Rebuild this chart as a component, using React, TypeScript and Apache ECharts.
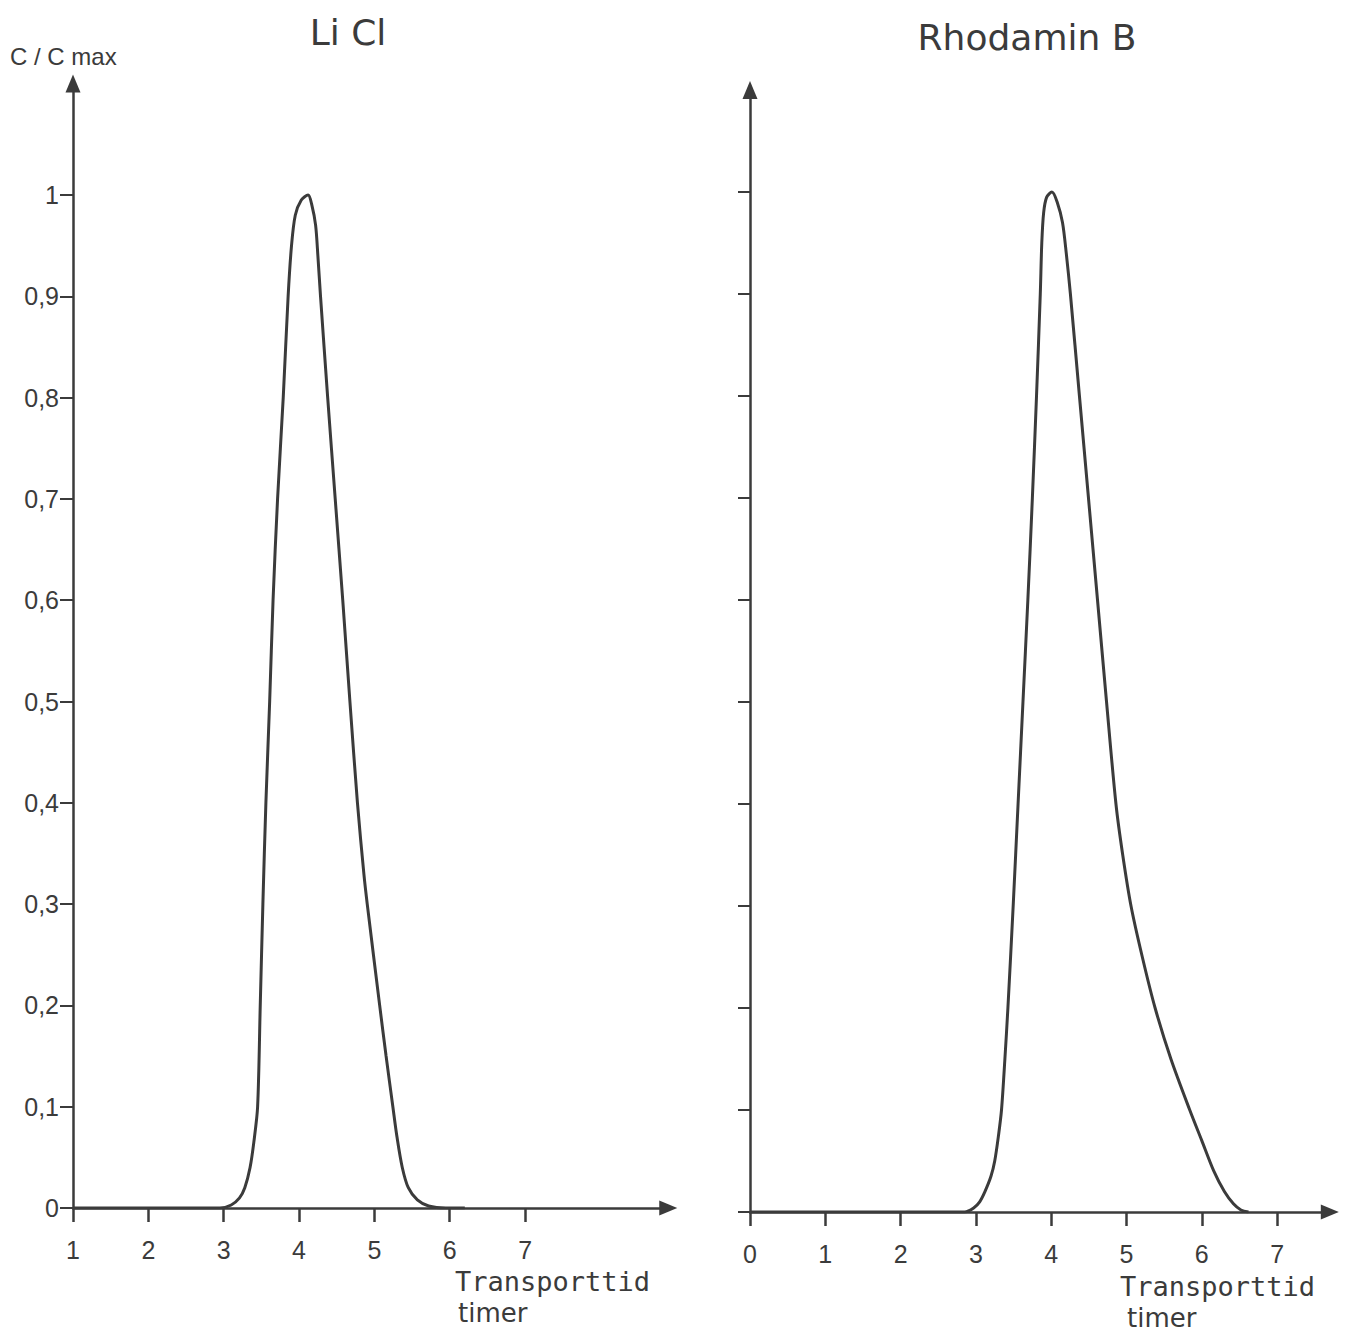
import React, { useEffect, useRef } from 'react';
import * as echarts from 'echarts';

// ---------- data ----------
const yTicks = [0, 0.1, 0.2, 0.3, 0.4, 0.5, 0.6, 0.7, 0.8, 0.9, 1];
const licXTicks = [1, 2, 3, 4, 5, 6, 7];
const rhoXTicks = [0, 1, 2, 3, 4, 5, 6, 7];

const licTitle = 'Li Cl';
const rhoTitle = 'Rhodamin B';
const yName = 'C / C max';
const xName1 = 'Transporttid';
const xName2 = 'timer';

// LiCl: transport time (hours) vs C/Cmax
const licTime = [1, 2.95, 3.1, 3.21, 3.28, 3.35, 3.4, 3.45, 3.485, 3.52, 3.56, 3.61, 3.655, 3.715, 3.79, 3.855, 3.9, 3.95, 4.03, 4.12, 4.17, 4.22, 4.25, 4.285, 4.38, 4.48, 4.58, 4.675, 4.775, 4.86, 4.905, 5.07, 5.155, 5.245, 5.3, 5.37, 5.45, 5.57, 5.72, 5.95, 6.2];
const licConc = [0, 0, 0.003, 0.01, 0.02, 0.04, 0.065, 0.1, 0.2, 0.3, 0.4, 0.5, 0.6, 0.7, 0.8, 0.9, 0.95, 0.98, 0.995, 1.0, 0.99, 0.97, 0.94, 0.9, 0.8, 0.7, 0.6, 0.5, 0.4, 0.33, 0.3, 0.2, 0.15, 0.1, 0.07, 0.04, 0.02, 0.008, 0.002, 0, 0];

// Rhodamin B: transport time (hours) vs C/Cmax
const rhoTime = [0, 2.85, 2.97, 3.05, 3.12, 3.2, 3.25, 3.3, 3.34, 3.385, 3.425, 3.495, 3.56, 3.625, 3.69, 3.75, 3.805, 3.855, 3.875, 3.9, 3.94, 4.01, 4.08, 4.15, 4.2, 4.255, 4.375, 4.495, 4.615, 4.735, 4.86, 4.95, 5.06, 5.21, 5.38, 5.59, 5.84, 6.0, 6.16, 6.3, 6.42, 6.52, 6.62];
const rhoConc = [0, 0, 0.004, 0.01, 0.02, 0.035, 0.05, 0.075, 0.1, 0.15, 0.2, 0.3, 0.4, 0.5, 0.6, 0.7, 0.8, 0.9, 0.95, 0.98, 0.995, 1.0, 0.99, 0.97, 0.94, 0.9, 0.8, 0.7, 0.6, 0.5, 0.4, 0.35, 0.3, 0.25, 0.2, 0.15, 0.1, 0.07, 0.04, 0.02, 0.008, 0.002, 0];

const INK = '#3b3b3b';
const LABEL_FONT = '"Liberation Sans Narrow", "Liberation Sans", Roboto, sans-serif';
const TITLE_FONT = '"DejaVu Sans", "Liberation Sans", sans-serif';

function fmt(v: number) {
  return String(Math.round(v * 10) / 10).replace('.', ',');
}

export default function App() {
  const ref = useRef<HTMLDivElement>(null);

  useEffect(() => {
    if (!ref.current) return;
    const chart = echarts.init(ref.current, undefined, { renderer: 'svg' });

    const axisLine = () => ({
      show: true,
      onZero: false,
      symbol: ['none', 'triangle'],
      symbolSize: [15, 18],
      lineStyle: { color: INK, width: 2.5 },
    });

    const xLabel = (vals: number[]) => ({
      show: true, customValues: vals, margin: 29, fontSize: 25, color: INK, fontFamily: LABEL_FONT,
    });

    const option: any = {
      animation: false,
      backgroundColor: '#ffffff',
      grid: [
        { left: 73, top: 1208 - 1.11 * 1013, width: 7.9 * 75.35, height: 1.11 * 1013 },
        { left: 750, top: 1212 - 1.1 * 1020, width: 7.7 * 75.3, height: 1.1 * 1020 },
      ],
      xAxis: [
        {
          type: 'value', gridIndex: 0, min: 1, max: 8.9,
          axisLine: axisLine(),
          axisTick: { show: true, customValues: licXTicks, length: 14, lineStyle: { color: INK, width: 2.5 } },
          axisLabel: xLabel(licXTicks),
          splitLine: { show: false },
        },
        {
          type: 'value', gridIndex: 1, min: 0, max: 7.7,
          axisLine: axisLine(),
          axisTick: { show: true, customValues: rhoXTicks, length: 14, lineStyle: { color: INK, width: 2.5 } },
          axisLabel: xLabel(rhoXTicks),
          splitLine: { show: false },
        },
      ],
      yAxis: [
        {
          type: 'value', gridIndex: 0, min: 0, max: 1.11,
          axisLine: axisLine(),
          axisTick: { show: true, customValues: yTicks, length: 13, lineStyle: { color: INK, width: 2 } },
          axisLabel: { show: true, customValues: yTicks, margin: 14, fontSize: 25, color: INK, fontFamily: LABEL_FONT, formatter: (v: number) => fmt(v) },
          splitLine: { show: false },
        },
        {
          type: 'value', gridIndex: 1, min: 0, max: 1.1,
          axisLine: axisLine(),
          axisTick: { show: true, customValues: yTicks, length: 12, lineStyle: { color: INK, width: 2 } },
          axisLabel: { show: false },
          splitLine: { show: false },
        },
      ],
      series: [
        {
          type: 'line', xAxisIndex: 0, yAxisIndex: 0, name: licTitle,
          data: licTime.map((t, i) => [t, licConc[i]]),
          showSymbol: false, smooth: 0.3,
          lineStyle: { color: INK, width: 3 },
        },
        {
          type: 'line', xAxisIndex: 1, yAxisIndex: 1, name: rhoTitle,
          data: rhoTime.map((t, i) => [t, rhoConc[i]]),
          showSymbol: false, smooth: 0.3,
          lineStyle: { color: INK, width: 3 },
        },
      ],
      graphic: [
        { type: 'text', x: 10, y: 56, style: { text: yName, fill: INK, font: `24px ${LABEL_FONT}`, align: 'left', verticalAlign: 'middle' } },
        { type: 'text', x: 348, y: 32, style: { text: licTitle, fill: INK, font: `36px ${TITLE_FONT}`, align: 'center', verticalAlign: 'middle' } },
        { type: 'text', x: 1027, y: 37, style: { text: rhoTitle, fill: INK, font: `36px ${TITLE_FONT}`, align: 'center', verticalAlign: 'middle' } },
        { type: 'text', x: 455, y: 1281, style: { text: xName1, fill: INK, font: `27px "DejaVu Sans Mono", monospace`, align: 'left', verticalAlign: 'middle' } },
        { type: 'text', x: 458, y: 1313, style: { text: xName2, fill: INK, font: `26px ${TITLE_FONT}`, align: 'left', verticalAlign: 'middle' } },
        { type: 'text', x: 1120, y: 1286, style: { text: xName1, fill: INK, font: `27px "DejaVu Sans Mono", monospace`, align: 'left', verticalAlign: 'middle' } },
        { type: 'text', x: 1127, y: 1318, style: { text: xName2, fill: INK, font: `26px ${TITLE_FONT}`, align: 'left', verticalAlign: 'middle' } },
      ],
    };

    chart.setOption(option);
    return () => chart.dispose();
  }, []);

  return (
    <div
      ref={ref}
      style={{ position: 'absolute', left: 0, top: 0, width: 1349, height: 1334, background: '#fff' }}
    />
  );
}
